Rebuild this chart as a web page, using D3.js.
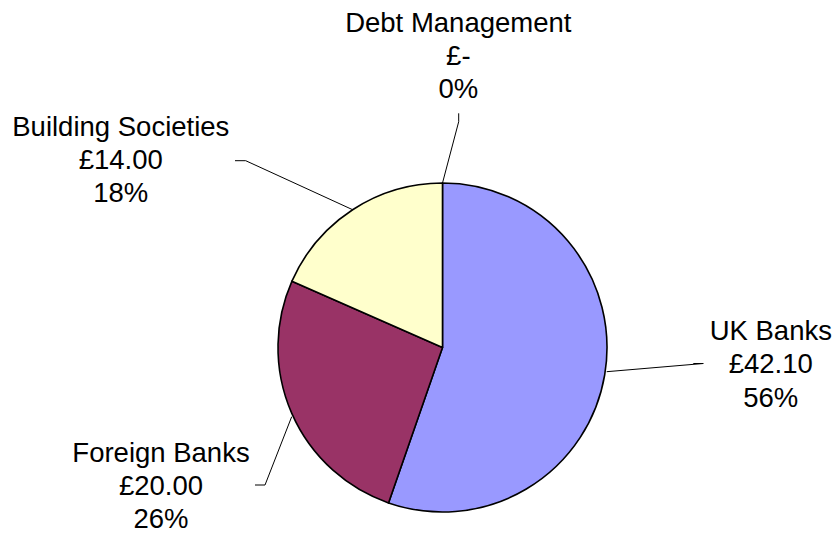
<!DOCTYPE html>
<html>
<head>
<meta charset="utf-8">
<script src="https://cdn.jsdelivr.net/npm/d3@7"></script>
<style>
  body { margin: 0; background: #fff; }
  text { font-family: "Liberation Sans", Arial, sans-serif; font-size: 27.5px; fill: #000; }
</style>
</head>
<body>
<div id="chart"></div>
<script>
// chart data
var categories = ["UK Banks", "Foreign Banks", "Building Societies", "Debt Management"];
var values = [42.10, 20.00, 14.00, 0];
var valueLabels = ["£42.10", "£20.00", "£14.00", "£-"];
var pctLabels = ["56%", "26%", "18%", "0%"];
var colors = ["#9999ff", "#993366", "#ffffcc", "#ccffff"];

// layout (label block centre + first baseline, and the leader bend, relative to pie centre)
var width = 837, height = 539;
var cx = 442.5, cy = 347.5, radius = 164.5;
var lineGap = 33.4;
var labelLayout = [
  {x: 328.3, y: -7.5, bend: [[260.8, 16], [250.8, 16]], edge: [164.2, 24.2]},
  {x: -281.5, y: 114.2, bend: [[-177.5, 137.5], [-187.5, 137.5]], edge: [-150.8, 69.2]},
  {x: -321.7, y: -211.8, bend: [[-196.8, -186.8], [-207.5, -186.8]], edge: null},
  {x: 15.8, y: -315.8, bend: [[16.2, -225.8], [16.2, -234.2]], edge: null}
];

var data = categories.map(function(c, i){
  return {name: c, value: values[i], money: valueLabels[i], pct: pctLabels[i], color: colors[i], lay: labelLayout[i]};
});

var svg = d3.select("#chart")
  .append("svg")
  .attr("width", width)
  .attr("height", height);

var g = svg.append("g")
  .attr("transform", "translate(" + cx + "," + cy + ")");

var pie = d3.pie()
  .sort(null)
  .value(function(d){ return d.value; });

var arc = d3.arc()
  .innerRadius(0)
  .outerRadius(radius);

var arcs = pie(data);

g.selectAll("path.slice")
  .data(arcs.filter(function(d){ return d.value > 0; }))
  .enter()
  .append("path")
  .attr("class", "slice")
  .attr("d", arc)
  .attr("fill", function(d){ return d.data.color; })
  .attr("stroke", "#000")
  .attr("stroke-width", 1.6)
  .attr("stroke-linejoin", "round");

// leader lines: from slice mid-angle on the rim out to the label
g.selectAll("path.leader")
  .data(arcs)
  .enter()
  .append("path")
  .attr("class", "leader")
  .attr("fill", "none")
  .attr("stroke", "#000")
  .attr("stroke-width", 1)
  .attr("d", function(d){
    var a = (d.startAngle + d.endAngle) / 2;
    var p0 = d.data.lay.edge || [radius * Math.sin(a), -radius * Math.cos(a)];
    var pts = [p0].concat(d.data.lay.bend);
    return d3.line()(pts);
  });

// labels
var labels = g.selectAll("text.lbl")
  .data(arcs)
  .enter()
  .append("text")
  .attr("class", "lbl")
  .attr("text-anchor", "middle")
  .attr("transform", function(d){ return "translate(" + d.data.lay.x + "," + d.data.lay.y + ")"; });

labels.each(function(d){
  var t = d3.select(this);
  [d.data.name, d.data.money, d.data.pct].forEach(function(s, k){
    t.append("tspan").attr("x", 0).attr("y", k * lineGap).text(s);
  });
});
</script>
</body>
</html>
